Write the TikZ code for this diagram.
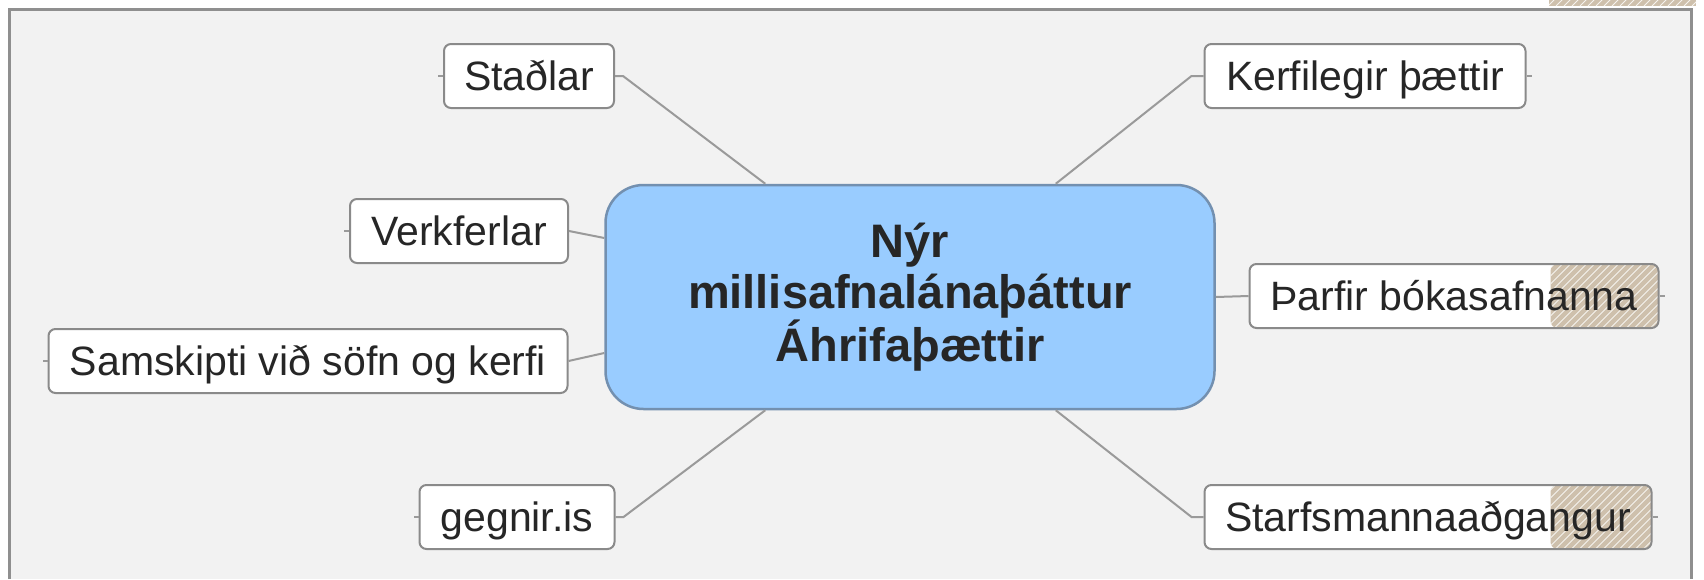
\documentclass[tikz,border=0pt]{standalone}
\usepackage{fontspec}
\setmainfont{Liberation Sans}
\definecolor{bgc}{HTML}{F2F2F2}
\definecolor{framec}{HTML}{8F8F8F}
\definecolor{boxline}{HTML}{8A8A8A}
\definecolor{linkc}{HTML}{9A9A9A}
\definecolor{hubfill}{HTML}{99CCFF}
\definecolor{hubline}{HTML}{7390B0}
\definecolor{txt}{HTML}{262626}
\definecolor{tanc}{HTML}{CEC0AC}
\begin{document}
\begin{tikzpicture}[x=1pt,y=-1pt,
  box/.style={draw=boxline, line width=2pt, fill=white, rounded corners=7pt,
    minimum height=64pt, inner sep=0pt, text height=29pt, text depth=0pt,
    font=\fontsize{41}{49}\selectfont, text=txt},
  hub/.style={draw=hubline, line width=2.5pt, fill=hubfill, rounded corners=38pt,
    minimum width=609pt, minimum height=224pt, align=center,
    font=\fontsize{47}{51}\selectfont\bfseries, text=txt},
  link/.style={draw=linkc, line width=2pt},
  tick/.style={draw=linkc, line width=1.5pt},
  hatched/.style={path picture={
    \begin{scope}
      \clip ([xshift=-#1]path picture bounding box.north east) rectangle (path picture bounding box.south east);
      \fill[tanc] (path picture bounding box.south west) rectangle (path picture bounding box.north east);
      \foreach \i in {0,...,26} {\draw[white!80!tanc, line width=0.8pt] ([xshift=\i*8pt-208pt]path picture bounding box.south east) -- ++(90pt,90pt);}
    \end{scope}}}
]
\useasboundingbox (0,0) rectangle (1704,579);
\fill[white] (0,0) rectangle (1704,579);
\fill[bgc] (9,9) rectangle (1691,579);
\draw[framec, line width=3pt] (9,579) -- (9,9) -- (1691,9) -- (1691,579);
% hatched strip above frame
\begin{scope}
  \clip (1549,0) rectangle (1696,6);
  \fill[tanc] (1549,0) rectangle (1696,6);
  \foreach \i in {0,...,20} {\draw[white!80!tanc, line width=0.8pt] (1540+\i*8,6) -- ++(10pt,10pt);}
\end{scope}

\node[hub] (c) at (910,297) {Nýr\\millisafnalánaþáttur\\Áhrifaþættir};
\node[box, minimum width=170pt] (s) at (529,76) {Staðlar};
\node[box, minimum width=321pt] (k) at (1365,76) {Kerfilegir þættir};
\node[box, minimum width=218pt] (v) at (459,231) {Verkferlar};
\node[box, minimum width=409pt, hatched=108pt] (p) at (1454,296) {Þarfir bókasafnanna};
\node[box, minimum width=519pt] (sa) at (308,361) {Samskipti við söfn og kerfi};
\node[box, minimum width=195pt] (g) at (517,517) {gegnir.is};
\node[box, minimum width=447pt, hatched=101pt] (st) at (1428,517) {Starfsmannaaðgangur};

\coordinate (ctl) at ([xshift=161pt]c.north west);
\coordinate (ctr) at ([xshift=-160pt]c.north east);
\coordinate (cbl) at ([xshift=161pt]c.south west);
\coordinate (cbr) at ([xshift=-160pt]c.south east);
\coordinate (cwl1) at ([yshift=59pt]c.west);
\coordinate (cwl2) at ([yshift=-56pt]c.west);

\draw[link] (s.east) -- ++(8,0) -- (ctl);
\draw[link] (k.west) -- ++(-12,0) -- (ctr);
\draw[link] (v.east) -- (cwl1);
\draw[link] (sa.east) -- (cwl2);
\draw[link] (c.east) -- (p.west);
\draw[link] (g.east) -- ++(8,0) -- (cbl);
\draw[link] (st.west) -- ++(-12,0) -- (cbr);

\draw[tick] (s.west) -- ++(-5,0);
\draw[tick] (v.west) -- ++(-5,0);
\draw[tick] (sa.west) -- ++(-5,0);
\draw[tick] (g.west) -- ++(-5,0);
\draw[tick] (k.east) -- ++(5,0);
\draw[tick] (p.east) -- ++(5,0);
\draw[tick] (st.east) -- ++(5,0);
\end{tikzpicture}
\end{document}
